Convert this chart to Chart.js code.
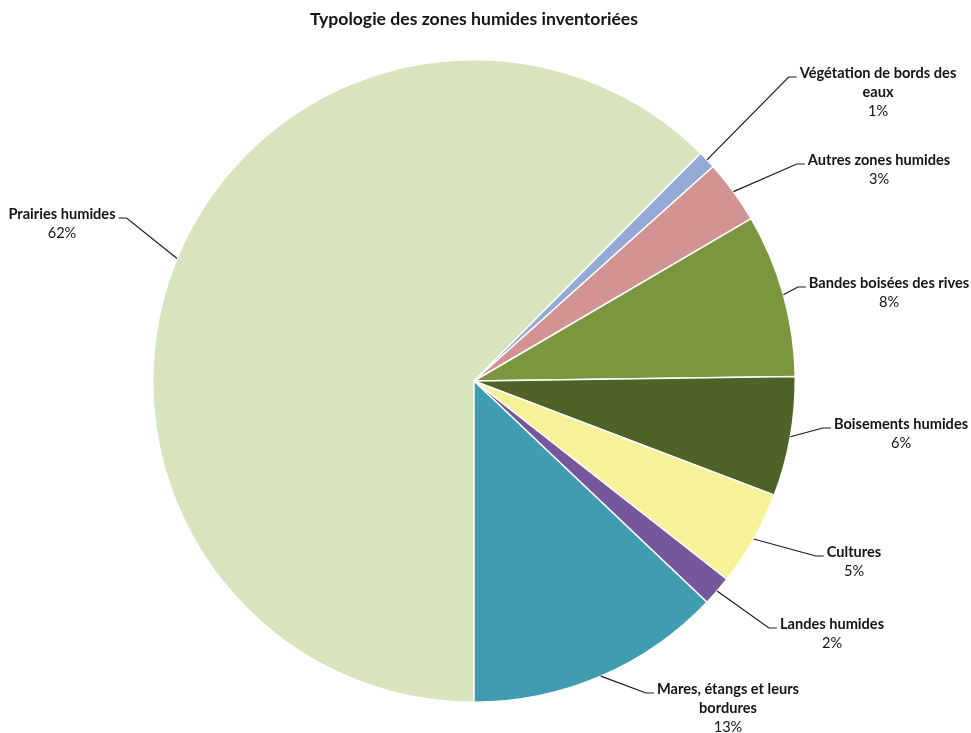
<!DOCTYPE html>
<html>
<head>
<meta charset="utf-8">
<script src="https://cdn.jsdelivr.net/npm/chart.js@4"></script>
<style>
  html, body { margin: 0; padding: 0; background: #fff; }
  #wrap { width: 971px; height: 733px; }
</style>
</head>
<body>
<div id="wrap"><canvas id="pie" width="971" height="733"></canvas></div>
<script>
// data (share of inventoried area, %)
var categories = [
    ["Prairies humides"],
    ["Végétation de bords des", "eaux"],
    ["Autres zones humides"],
    ["Bandes boisées des rives"],
    ["Boisements humides"],
    ["Cultures"],
    ["Landes humides"],
    ["Mares, étangs et leurs", "bordures"]
];
var shares = [62.4, 0.9, 3.2, 8.2, 6.0, 4.8, 1.5, 12.9];
var colors = ["#D7E4BD", "#95A9D6", "#D39392", "#7B963C", "#4F6228", "#F5F29A", "#75579B", "#3F9CB1"];

// where each label block sits: centre x, first line y, side of the leader
var labelPos = [
    {x: 62,  y: 214, side: "left"},
    {x: 878, y: 73,  side: "right"},
    {x: 879, y: 160, side: "right"},
    {x: 889, y: 283, side: "right"},
    {x: 901, y: 424, side: "right"},
    {x: 854, y: 552, side: "right"},
    {x: 832, y: 624, side: "right"},
    {x: 728, y: 689, side: "right"}
];

const FONT = "Lato, 'Open Sans', sans-serif";
const LINE_H = 19;
const LABEL_SIZE = 14.6;

// outside labels with leader lines, the way the spreadsheet drew them
const outsideLabels = {
    id: "outsideLabels",
    afterDatasetsDraw(chart) {
        const ctx = chart.ctx;
        const meta = chart.getDatasetMeta(0);
        ctx.save();
        meta.data.forEach((arc, i) => {
            const lines = categories[i];
            const pos = labelPos[i];
            const pct = Math.round(shares[i]) + "%";

            ctx.font = "bold " + LABEL_SIZE + "px " + FONT;
            const w0 = ctx.measureText(lines[0]).width;

            // leader line
            const mid = (arc.startAngle + arc.endAngle) / 2;
            const px = arc.x + Math.cos(mid) * arc.outerRadius;
            const py = arc.y + Math.sin(mid) * arc.outerRadius;
            const ly = pos.y + 4;
            let endX, elbowX;
            if (pos.side == "right") {
                endX = pos.x - w0 / 2 - 3;
                elbowX = endX - 8;
            } else {
                endX = pos.x + w0 / 2 + 3;
                elbowX = endX + 8;
            }
            ctx.strokeStyle = "#1a1a1a";
            ctx.lineWidth = 1.2;
            ctx.beginPath();
            ctx.moveTo(px, py);
            ctx.lineTo(elbowX, ly);
            ctx.lineTo(endX, ly);
            ctx.stroke();

            // text
            ctx.fillStyle = "#141414";
            ctx.textAlign = "center";
            ctx.textBaseline = "middle";
            lines.forEach((t, k) => ctx.fillText(t, pos.x, pos.y + k * LINE_H));
            ctx.font = LABEL_SIZE + "px " + FONT;
            ctx.fillText(pct, pos.x, pos.y + lines.length * LINE_H);
        });
        ctx.restore();
    }
};

new Chart("pie", {
    type: "pie",
    data: {
        labels: categories,
        datasets: [{
            data: shares,
            backgroundColor: colors,
            borderColor: "#ffffff",
            borderWidth: 1.5
        }]
    },
    options: {
        responsive: false,
        animation: false,
        rotation: 180,
        layout: {
            padding: {left: 152, right: 175, top: 0, bottom: 30}
        },
        plugins: {
            legend: { display: false },
            tooltip: { enabled: false },
            title: {
                display: true,
                text: "Typologie des zones humides inventoriées",
                color: "#141414",
                font: { family: FONT, size: 17.6, weight: "bold", lineHeight: 1.2 },
                padding: { top: 9, bottom: 28.9 }
            }
        }
    },
    plugins: [outsideLabels]
});
</script>
</body>
</html>
